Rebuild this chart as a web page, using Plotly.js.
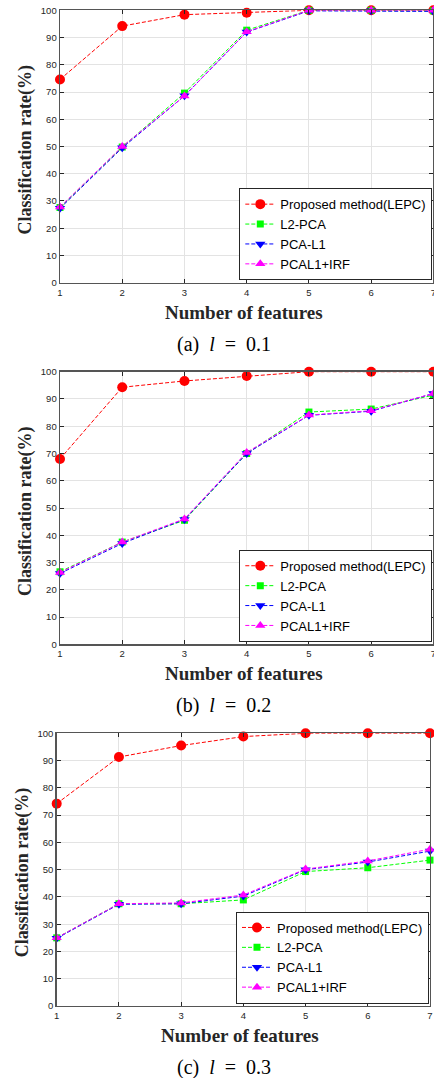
<!DOCTYPE html>
<html>
<head>
<meta charset="utf-8">
<script src="https://cdn.plot.ly/plotly-3.0.1.min.js"></script>
<style>html,body{margin:0;padding:0;background:#fff;}#chart{width:434px;height:1078px;}</style>
</head>
<body>
<div id="chart"></div>
<script>
// ---- data ----
const features = [1, 2, 3, 4, 5, 6, 7];
const seriesNames = ['Proposed method(LEPC)', 'L2-PCA', 'PCA-L1', 'PCAL1+IRF'];
const captions = ['(a)', '(b)', '(c)'];
const lValues = ['0.1', '0.2', '0.3'];
const yTicks = [0, 10, 20, 30, 40, 50, 60, 70, 80, 90, 100];

const a_lepc = [74.6, 94.2, 98.4, 99.1, 100, 100, 100];
const a_l2   = [27.6, 49.8, 69.6, 92.7, 100, 100, 99.8];
const a_l1   = [27.3, 49.5, 68.6, 92.0, 99.8, 99.8, 99.6];
const a_irf  = [27.8, 50.0, 68.5, 92.1, 100, 100, 100];

const b_lepc = [68.0, 94.3, 96.6, 98.4, 100, 100, 100];
const b_l2   = [26.6, 37.5, 45.5, 70.0, 85.2, 86.3, 91.4];
const b_l1   = [26.0, 37.0, 45.8, 70.0, 84.0, 85.5, 92.0];
const b_irf  = [26.3, 37.5, 46.0, 70.4, 84.1, 85.7, 92.0];

const c_lepc = [74.2, 91.3, 95.5, 98.8, 100, 100, 100];
const c_l2   = [25.0, 37.5, 37.5, 38.9, 49.3, 50.7, 53.5];
const c_l1   = [24.8, 37.3, 37.5, 40.3, 50.0, 52.8, 56.8];
const c_irf  = [25.0, 37.5, 37.8, 40.7, 50.2, 53.2, 57.5];

const panels = [
  [a_lepc, a_l2, a_l1, a_irf],
  [b_lepc, b_l2, b_l1, b_irf],
  [c_lepc, c_l2, c_l1, c_irf]
];

// ---- styles ----
const W = 434, H = 1078;
const px = v => v / W;
const py = v => 1 - v / H;
const styles = [
  {color: '#ff0000', symbol: 'circle', size: 10},
  {color: '#00ff00', symbol: 'square', size: 7},
  {color: '#0000ff', symbol: 'triangle-down', size: 9},
  {color: '#ff00ff', symbol: 'triangle-up', size: 9}
];
// pixel geometry of each panel: [left, right, top, bottom]
const geo = [
  [60, 433.4, 10.3, 282.7],
  [60, 433.4, 371.7, 644.3],
  [56.7, 430, 733.3, 1006]
];
const legendLeft = [239.3, 239.3, 236];

const traces = [];
const layout = {
  width: W, height: H,
  margin: {l: 0, r: 0, t: 0, b: 0},
  paper_bgcolor: '#fff', plot_bgcolor: '#fff',
  font: {family: 'Liberation Sans, Arial, sans-serif', color: '#262626'},
  annotations: [],
  showlegend: true
};

panels.forEach((series, p) => {
  const sfx = p === 0 ? '' : String(p + 1);
  const legName = 'legend' + sfx;
  series.forEach((vals, s) => {
    traces.push({
      x: features, y: vals, type: 'scatter', mode: 'lines+markers',
      name: seriesNames[s],
      xaxis: 'x' + sfx, yaxis: 'y' + sfx,
      legend: legName,
      cliponaxis: false,
      line: {color: styles[s].color, width: 1, dash: '4px,2px'},
      marker: {color: styles[s].color, symbol: styles[s].symbol, size: styles[s].size, line: {width: 0}}
    });
  });
  const [l, r, t, b] = geo[p];
  const common = {
    showgrid: true, gridcolor: '#e3e3e3', gridwidth: 1,
    zeroline: false,
    showline: true, linecolor: '#555', linewidth: 1.4, mirror: 'ticks',
    ticks: 'inside', ticklen: 4, tickcolor: '#262626', tickwidth: 1,
    tickfont: {family: 'Liberation Sans, Arial, sans-serif', size: 9.5, color: '#262626'},
    fixedrange: true
  };
  layout['xaxis' + sfx] = Object.assign({}, common, {
    domain: [px(l), px(r)], anchor: 'y' + sfx,
    range: [1, 7], tickvals: features, ticktext: features.map(String),
    ticklabeloverflow: 'allow'
  });
  layout['yaxis' + sfx] = Object.assign({}, common, {
    domain: [py(b), py(t)], anchor: 'x' + sfx,
    range: [0, 100], tickvals: yTicks, ticktext: yTicks.map(String)
  });
  layout[legName] = {
    x: px(legendLeft[p]), y: py(b - 2.5), xanchor: 'left', yanchor: 'bottom',
    xref: 'paper', yref: 'paper',
    bgcolor: '#fff', bordercolor: '#262626', borderwidth: 1,
    font: {family: 'Liberation Sans, Arial, sans-serif', size: 13, color: '#000'}
  };
  const cx = (l + r) / 2;
  // x-axis title
  layout.annotations.push({
    xref: 'paper', yref: 'paper', x: px(cx - 3), y: py(b + 29.6),
    xanchor: 'center', yanchor: 'middle', showarrow: false,
    text: '<b>Number of features</b>',
    font: {family: 'Liberation Serif, Times New Roman, serif', size: 19, color: '#262626'}
  });
  // y-axis title
  layout.annotations.push({
    xref: 'paper', yref: 'paper', x: px(l - 34.5), y: py(t + 139.7),
    xanchor: 'center', yanchor: 'middle', showarrow: false, textangle: -90,
    text: '<b>Classification rate(%)</b>',
    font: {family: 'Liberation Serif, Times New Roman, serif', size: 18, color: '#262626'}
  });
  // caption
  layout.annotations.push({
    xref: 'paper', yref: 'paper', x: px(223.5), y: py(t + 333.7),
    xanchor: 'center', yanchor: 'middle', showarrow: false,
    text: captions[p] + '&nbsp;&nbsp;<i>l</i>&nbsp;&nbsp;=&nbsp;&nbsp;' + lValues[p],
    font: {family: 'Liberation Serif, Times New Roman, serif', size: 20, color: '#000'}
  });
});

Plotly.newPlot('chart', traces, layout, {displayModeBar: false, staticPlot: true});
</script>
</body>
</html>
